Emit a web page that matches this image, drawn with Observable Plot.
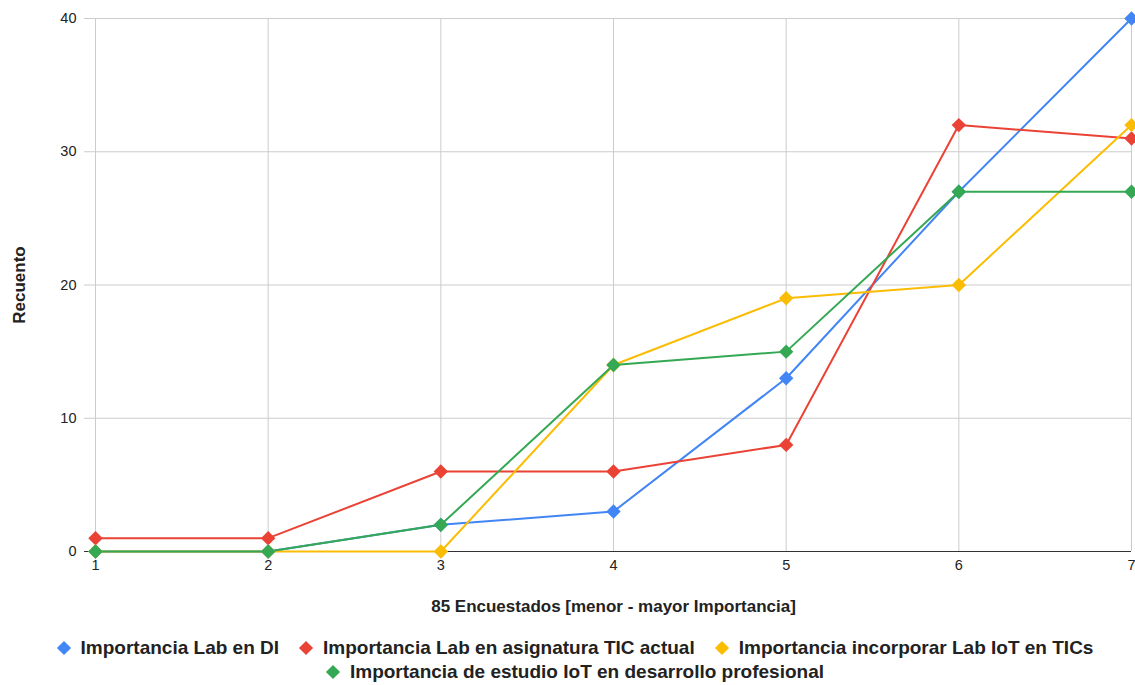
<!DOCTYPE html>
<html>
<head>
<meta charset="utf-8">
<script src="https://cdn.jsdelivr.net/npm/d3@7"></script>
<script src="https://cdn.jsdelivr.net/npm/@observablehq/plot@0.6"></script>
<style>
  html, body { margin: 0; padding: 0; background: #fff; }
  body { width: 1135px; height: 685px; overflow: hidden; font-family: "Liberation Sans", Arial, sans-serif; }
  #legend { display: flex; flex-wrap: wrap; justify-content: center; column-gap: 20px; width: 1100px; margin-left: 25px; padding-top: 8px; font-weight: bold; font-size: 19px; line-height: 24px; color: #222; }
  .item { display: flex; align-items: center; white-space: nowrap; }
  .sw { width: 10px; height: 10px; transform: rotate(45deg); margin-right: 12px; margin-left: 2px; }
</style>
</head>
<body>
<div id="chart"></div>
<div id="legend"></div>
<script>
const categories = [1, 2, 3, 4, 5, 6, 7];
const seriesNames = [
  "Importancia Lab en DI",
  "Importancia Lab en asignatura TIC actual",
  "Importancia incorporar Lab IoT en TICs",
  "Importancia de estudio IoT en desarrollo profesional"
];
const seriesColors = ["#4285F4", "#EA4335", "#FBBC04", "#34A853"];
const labEnDI = [0, 0, 2, 3, 13, 27, 40];
const labTicActual = [1, 1, 6, 6, 8, 32, 31];
const incorporarLab = [0, 0, 0, 14, 19, 20, 32];
const estudioIoT = [0, 0, 2, 14, 15, 27, 27];
const yTicks = [0, 10, 20, 30, 40];
const xTitle = "85 Encuestados [menor - mayor Importancia]";
const yTitle = "Recuento";

const allValues = [labEnDI, labTicActual, incorporarLab, estudioIoT];
const data = [];
allValues.forEach((vals, s) => {
  vals.forEach((v, i) => data.push({series: seriesNames[s], x: categories[i], y: v}));
});

const chart = Plot.plot({
  width: 1135,
  height: 628,
  marginTop: 18,
  marginLeft: 95,
  marginRight: 4,
  marginBottom: 77,
  style: {fontFamily: "Liberation Sans, Arial, sans-serif", fontSize: "14.5px", color: "#222"},
  x: {domain: [1, 7], label: null},
  y: {domain: [0, 40], label: null},
  color: {domain: seriesNames, range: seriesColors},
  marks: [
    Plot.ruleY(yTicks, {stroke: "#cccccc", strokeWidth: 1, insetLeft: -11}),
    Plot.ruleX(categories, {stroke: "#cccccc", strokeWidth: 1}),
    Plot.ruleY([0], {stroke: "#333333", strokeWidth: 1.2, insetLeft: -11}),
    Plot.axisX({ticks: categories, tickFormat: d => String(d), tickSize: 0, tickPadding: 8, fontSize: 14.5, label: xTitle, labelAnchor: "center", labelArrow: "none", labelOffset: 60}),
    Plot.axisY({ticks: yTicks, tickFormat: d => String(d), tickSize: 0, tickPadding: 19, fontSize: 14.5, label: yTitle, labelAnchor: "center", labelArrow: "none", labelOffset: 83}),
    Plot.line(data, {x: "x", y: "y", z: "series", stroke: "series", strokeWidth: 2}),
    Plot.dot(data, {x: "x", y: "y", fill: "series", symbol: "diamond2", r: 6.5, stroke: "none"})
  ]
});
chart.querySelectorAll("g[aria-label='x-axis label'] text, g[aria-label='y-axis label'] text").forEach(t => {
  t.style.fontWeight = "bold";
  t.style.fontSize = "17px";
});
document.getElementById("chart").appendChild(chart);

const legend = document.getElementById("legend");
seriesNames.forEach((name, i) => {
  const item = document.createElement("div");
  item.className = "item";
  const sw = document.createElement("span");
  sw.className = "sw";
  sw.style.background = seriesColors[i];
  item.appendChild(sw);
  item.appendChild(document.createTextNode(name));
  legend.appendChild(item);
});
</script>
</body>
</html>
